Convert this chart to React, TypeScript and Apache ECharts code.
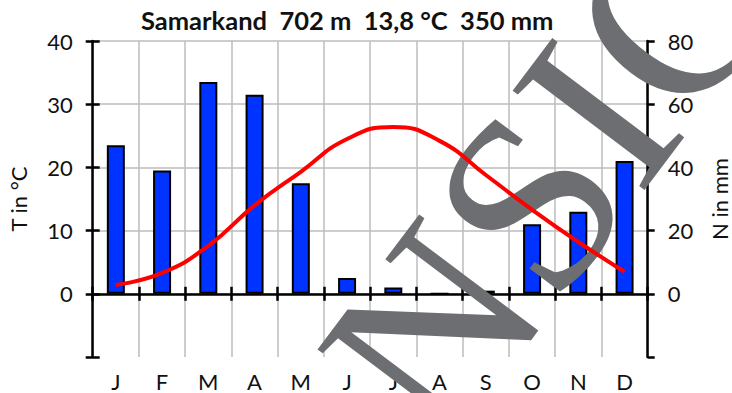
import React, { useEffect, useRef } from "react";
import * as echarts from "echarts";

const months = ["J", "F", "M", "A", "M", "J", "J", "A", "S", "O", "N", "D"];
const temperature = [1.4, 3.3, 7.6, 14.0, 19.3, 24.5, 26.4, 24.2, 18.8, 13.3, 8.2, 3.5];
const precipitation = [47, 39, 67, 63, 35, 5, 2, 0, 1, 22, 26, 42];
const titleText = "Samarkand  702 m  13,8 °C  350 mm";
const watermarkText = "NSIC";

const FONT = "Lato";
const GRID_COLOR = "#bdbdbd";

export default function App() {
  const ref = useRef<HTMLDivElement>(null);

  useEffect(() => {
    if (!ref.current) return;
    document.documentElement.style.overflow = "hidden";
    document.body.style.overflow = "hidden";
    const chart = echarts.init(ref.current, undefined, { renderer: "svg", width: 732, height: 393 });
    const splitColors = ["rgba(0,0,0,0)", GRID_COLOR, GRID_COLOR, GRID_COLOR, GRID_COLOR, GRID_COLOR];
    chart.setOption({
      animation: false,
      backgroundColor: "#ffffff",
      title: {
        text: titleText,
        left: 136,
        top: 2,
        textStyle: { fontFamily: FONT, fontWeight: "bold", fontSize: 25.5, color: "#111" },
      },
      grid: {
        left: 92.7,
        right: 84.3,
        top: 41,
        bottom: 36,
        containLabel: false,
        outerBoundsMode: "none",
      },
      xAxis: [
        {
          type: "category",
          data: months,
          position: "bottom",
          axisLine: { show: false, onZero: false },
          axisTick: { show: false },
          axisLabel: { fontFamily: FONT, fontSize: 22, color: "#111", margin: 13 },
          splitLine: { show: true, lineStyle: { color: GRID_COLOR, width: 1.5 } },
        },
        {
          type: "category",
          data: months,
          position: "bottom",
          axisLine: { show: true, onZero: true, onZeroAxisIndex: 0, lineStyle: { color: "#000", width: 2.5 } },
          axisTick: { show: true, length: 7, inside: false, lineStyle: { color: "#000", width: 2.5 } },
          axisLabel: { show: false },
          splitLine: { show: false },
        },
        {
          type: "category",
          data: months,
          position: "bottom",
          axisLine: { show: false, onZero: true, onZeroAxisIndex: 0 },
          axisTick: { show: true, length: 7, inside: true, lineStyle: { color: "#000", width: 2.5 } },
          axisLabel: { show: false },
          splitLine: { show: false },
        },
      ],
      yAxis: [
        {
          type: "value",
          position: "left",
          min: -10,
          max: 40,
          interval: 10,
          name: "T in °C",
          nameLocation: "middle",
          nameGap: 63,
          nameTextStyle: { fontFamily: FONT, fontSize: 22, color: "#111" },
          axisLine: { show: true, lineStyle: { color: "#000", width: 2.5 } },
          axisTick: { show: true, length: 7, inside: false, lineStyle: { color: "#000", width: 2.5 } },
          axisLabel: {
            fontFamily: FONT,
            fontSize: 22,
            color: "#111",
            margin: 20,
            formatter: (v: number) => (v < 0 ? "" : String(v)),
          },
          splitLine: { show: true, lineStyle: { color: splitColors, width: 1.5 } },
        },
        {
          type: "value",
          position: "right",
          min: -20,
          max: 80,
          interval: 20,
          name: "N in mm",
          nameLocation: "middle",
          nameGap: 61,
          nameRotate: 90,
          nameTextStyle: { fontFamily: FONT, fontSize: 22, color: "#111" },
          axisLine: { show: true, lineStyle: { color: "#000", width: 2.5 } },
          axisTick: { show: true, length: 7, inside: false, lineStyle: { color: "#000", width: 2.5 } },
          axisLabel: {
            fontFamily: FONT,
            fontSize: 22,
            color: "#111",
            margin: 20,
            formatter: (v: number) => (v < 0 ? "" : String(v)),
          },
          splitLine: { show: false },
        },
        {
          type: "value",
          position: "left",
          min: -10,
          max: 40,
          interval: 10,
          axisLine: { show: false },
          axisTick: { show: true, length: 7, inside: true, lineStyle: { color: "#000", width: 2.5 } },
          axisLabel: { show: false },
          splitLine: { show: false },
        },
      ],
      series: [
        {
          type: "bar",
          name: "N",
          xAxisIndex: 0,
          yAxisIndex: 1,
          data: precipitation,
          barWidth: 18,
          itemStyle: { color: "#0033ff", borderColor: "#000", borderWidth: 2 },
          z: 2,
        },
        {
          type: "line",
          name: "T",
          xAxisIndex: 0,
          yAxisIndex: 0,
          data: temperature,
          smooth: 0.5,
          symbol: "none",
          lineStyle: { color: "#ff0000", width: 4 },
          z: 20,
        },
      ],
      graphic: [
        {
          type: "text",
          x: 550,
          y: 174,
          rotation: 0.925,
          z: 10,
          silent: true,
          style: {
            text: watermarkText,
            fontFamily: "Liberation Serif",
            fontSize: 252,
            fill: "#6d6e71",
            align: "center",
            verticalAlign: "middle",
          },
        },
      ],
    });
    return () => chart.dispose();
  }, []);

  return (
    <div
      ref={ref}
      style={{ position: "fixed", left: 0, top: 0, width: 732, height: 393, overflow: "hidden", background: "#fff" }}
    />
  );
}
